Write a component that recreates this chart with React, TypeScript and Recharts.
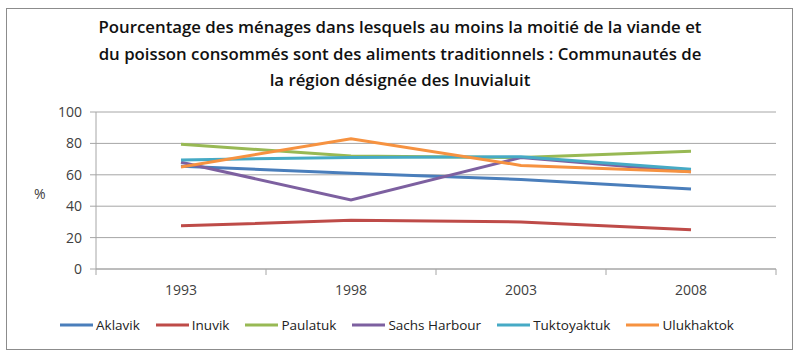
import React from "react";
import { LineChart, Line, XAxis, YAxis, CartesianGrid, Legend } from "recharts";

const years = ["1993", "1998", "2003", "2008"];
const aklavik = [65.5, 61, 57, 51];
const inuvik = [27.5, 31, 30, 25];
const paulatuk = [79.5, 72, 71, 75];
const sachsHarbour = [68, 44, 71, 62];
const tuktoyaktuk = [69.5, 71, 71.5, 63.5];
const ulukhaktok = [65, 83, 66, 62];
const yTicks = [0, 20, 40, 60, 80, 100];

const series = [
  { name: "Aklavik", values: aklavik, color: "#4a7ebb" },
  { name: "Inuvik", values: inuvik, color: "#be4b48" },
  { name: "Paulatuk", values: paulatuk, color: "#98b954" },
  { name: "Sachs Harbour", values: sachsHarbour, color: "#7d60a0" },
  { name: "Tuktoyaktuk", values: tuktoyaktuk, color: "#46aac5" },
  { name: "Ulukhaktok", values: ulukhaktok, color: "#f69240" },
];

const data = years.map((year, i) => {
  const row: Record<string, string | number> = { year };
  series.forEach((s) => {
    row[s.name] = s.values[i];
  });
  return row;
});

const FONT = "'Open Sans', sans-serif";
const GRID = "#a6a6a6";
const TEXT = "#404040";

// chart geometry
const W = 800;
const H = 364;
const PLOT_LEFT = 96;
const PLOT_RIGHT = 776;
const BAND = (PLOT_RIGHT - PLOT_LEFT) / years.length;
const TICK_SIZE = 6;
const TICK_MARGIN = 2;

const XTick = (props: any) => {
  const { x, y, payload, index } = props;
  const axisY = y - TICK_SIZE - TICK_MARGIN;
  const half = BAND / 2;
  return (
    <g>
      <line x1={x - half} x2={x - half} y1={axisY} y2={axisY + TICK_SIZE} stroke={GRID} />
      {index === years.length - 1 && (
        <line x1={x + half} x2={x + half} y1={axisY} y2={axisY + TICK_SIZE} stroke={GRID} />
      )}
      <text x={x} y={y} dy={18} textAnchor="middle" fill={TEXT} fontSize={14} fontFamily={FONT}>
        {payload.value}
      </text>
    </g>
  );
};

const LegendContent = () => (
  <div
    style={{
      display: "flex",
      justifyContent: "center",
      alignItems: "center",
      fontFamily: FONT,
      fontSize: 13.5,
      color: "#222",
      height: 24,
      paddingLeft: 10,
    }}
  >
    {series.map((s) => (
      <div key={s.name} style={{ display: "flex", alignItems: "center", marginRight: 16 }}>
        <svg width={33} height={4} style={{ marginRight: 3 }}>
          <line x1={0} x2={33} y1={2} y2={2} stroke={s.color} strokeWidth={3} />
        </svg>
        <span>{s.name}</span>
      </div>
    ))}
  </div>
);

export default function App() {
  return (
    <div
      style={{
        position: "absolute",
        left: 0,
        top: 0,
        width: W,
        height: H,
        background: "#fff",
        overflow: "hidden",
      }}
    >
      <div
        style={{
          position: "absolute",
          left: 6,
          top: 8,
          width: 785,
          height: 340,
          border: "1px solid #8c8c8c",
        }}
      />
      <div
        style={{
          position: "absolute",
          left: 0,
          top: 14,
          width: W,
          textAlign: "center",
          fontFamily: FONT,
          fontWeight: 600,
          fontSize: 16.8,
          lineHeight: "26.5px",
          color: "#111",
        }}
      >
        Pourcentage des ménages dans lesquels au moins la moitié de la viande et
        <br />
        du poisson consommés sont des aliments traditionnels : Communautés de
        <br />
        la région désignée des Inuvialuit
      </div>
      <div style={{ position: "absolute", left: 0, top: 0 }}>
        <LineChart
          width={W}
          height={H}
          data={data}
          margin={{ top: 112, right: W - PLOT_RIGHT, left: 36, bottom: 27 }}
        >
          <CartesianGrid vertical={false} stroke={GRID} />
          <XAxis
            dataKey="year"
            height={44}
            padding={{ left: BAND / 2, right: BAND / 2 }}
            axisLine={{ stroke: GRID }}
            tickLine={false}
            tickSize={TICK_SIZE}
            tickMargin={TICK_MARGIN}
            tick={<XTick />}
            interval={0}
          />
          <YAxis
            width={60}
            domain={[0, 100]}
            ticks={yTicks}
            axisLine={{ stroke: GRID }}
            tickLine={{ stroke: GRID }}
            tickSize={6}
            tickMargin={8}
            tick={{ fill: TEXT, fontSize: 14, fontFamily: FONT }}
            label={{
              value: "%",
              position: "insideLeft",
              offset: -2,
              dy: 4,
              fill: TEXT,
              fontSize: 14,
              fontFamily: FONT,
            }}
          />
          <Legend
            verticalAlign="bottom"
            content={<LegendContent />}
            wrapperStyle={{ left: 0, width: W }}
          />
          {series.map((s) => (
            <Line
              key={s.name}
              type="linear"
              dataKey={s.name}
              stroke={s.color}
              strokeWidth={3}
              dot={false}
              activeDot={false}
              isAnimationActive={false}
            />
          ))}
        </LineChart>
      </div>
    </div>
  );
}
